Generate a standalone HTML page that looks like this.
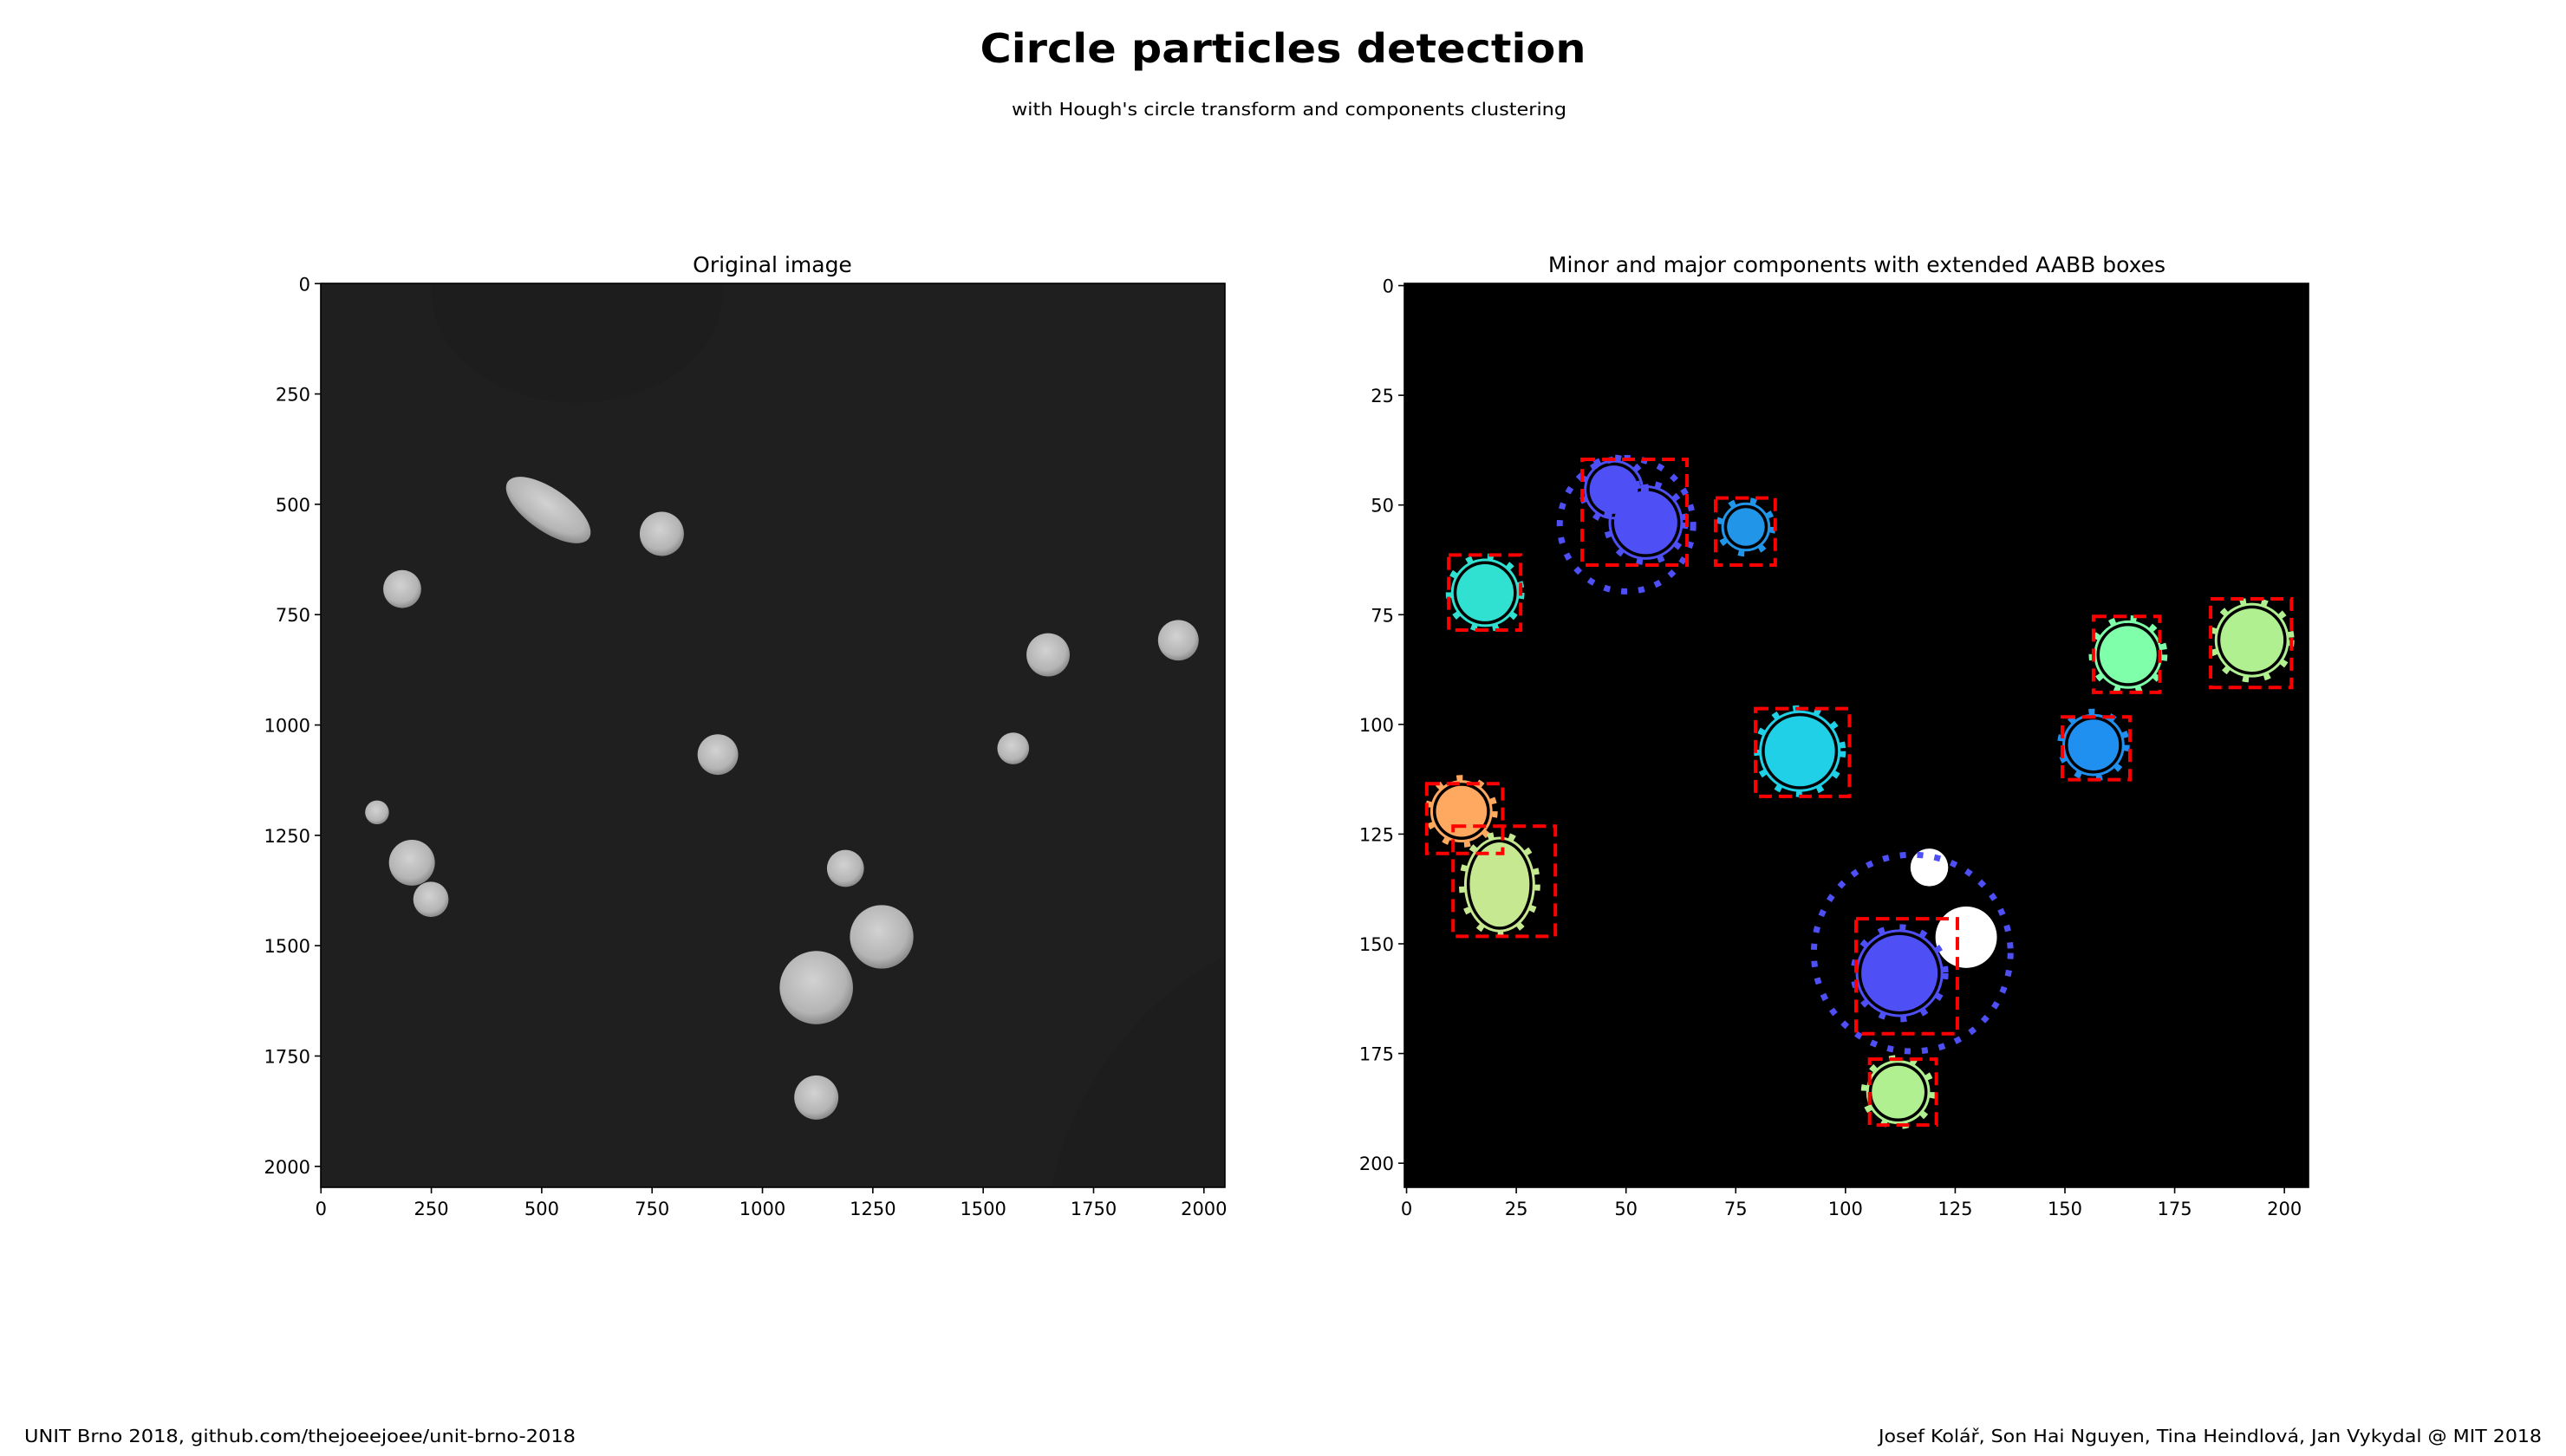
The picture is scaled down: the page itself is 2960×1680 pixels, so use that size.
<!DOCTYPE html>
<html><head><meta charset="utf-8"><style>
html,body{margin:0;padding:0;background:#fff}
svg{display:block}
text{font-family:"DejaVu Sans","Liberation Sans",sans-serif}
</style></head><body>
<svg id="fig" width="2960" height="1680" viewBox="0 0 2960 1680" xmlns="http://www.w3.org/2000/svg">
<defs>
<radialGradient id="pg" cx="45%" cy="40%" r="60%">
<stop offset="0" stop-color="#d2d2d2"/><stop offset="0.75" stop-color="#b4b4b4"/><stop offset="1" stop-color="#8a8a8a"/>
</radialGradient>
<clipPath id="clipL"><rect x="370" y="327" width="1043" height="1043"/></clipPath>
<clipPath id="clipR"><rect x="1620" y="327" width="1043" height="1043"/></clipPath>
</defs>
<text x="1480" y="72" text-anchor="middle" font-size="46" font-weight="bold" textLength="699" lengthAdjust="spacingAndGlyphs">Circle particles detection</text>
<text x="1487" y="133" text-anchor="middle" font-size="20" textLength="640" lengthAdjust="spacingAndGlyphs">with Hough's circle transform and components clustering</text>
<text x="891" y="314" text-anchor="middle" font-size="25">Original image</text>
<text x="2142" y="314" text-anchor="middle" font-size="25">Minor and major components with extended AABB boxes</text>
<g id="left"></g>
<g id="right"></g>
<text x="28" y="1664" font-size="20" textLength="636" lengthAdjust="spacingAndGlyphs">UNIT Brno 2018, github.com/thejoeejoee/unit-brno-2018</text>
<text x="2932" y="1664" text-anchor="end" font-size="20" textLength="765" lengthAdjust="spacingAndGlyphs">Josef Kolář, Son Hai Nguyen, Tina Heindlová, Jan Vykydal @ MIT 2018</text>
</svg>
<script>
// Left panel: particles in original image (x, y, r in px)
const particleX = [772, 184, 1647, 1942, 899, 1568, 127, 206, 249, 1188, 1270, 1122, 1122];
const particleY = [567, 692, 841, 808, 1067, 1053, 1198, 1312, 1395, 1325, 1480, 1595, 1844];
const particleR = [50, 43, 49, 46, 46, 36, 27, 52, 40, 42, 72, 83, 50];
const elongX = [515], elongY = [513], elongRx = [112], elongRy = [48], elongAngle = [35];
const leftTicks = [0, 250, 500, 750, 1000, 1250, 1500, 1750, 2000];
// Right panel: components (x, y, r in grid units)
const blobX = [47.2, 54.5, 77.3, 17.9, 164.4, 192.6, 89.6, 156.5, 12.5, 21.2, 112.3, 112];
const blobY = [46.5, 54, 55, 70, 84.1, 80.8, 106.1, 104.7, 119.8, 136.5, 156.7, 183.8];
const blobR = [5.5, 7.2, 4.3, 6.5, 6.5, 7.2, 8, 5.8, 5.8, 8, 8.7, 6];
const blobColor = ['#4f4ff6','#4f4ff6','#2196e8','#30e0d0','#80ffaa','#b0f090','#20d0e6','#2090f0','#ffa860','#c6e890','#4f4ff6','#b0f090'];
const boxX0 = [40, 70.4, 9.6, 156.5, 183.2, 79.5, 149.4, 4.6, 10.6, 102.4, 105.5];
const boxX1 = [63.9, 84, 26, 171.6, 201.6, 100.9, 164.8, 21.9, 33.9, 125.5, 120.7];
const boxY0 = [39.6, 48.4, 61.4, 75.4, 71.4, 96.4, 98.3, 113.5, 123.2, 144.3, 176.3];
const boxY1 = [63.7, 63.7, 78.5, 92.7, 91.6, 116.4, 112.6, 129.4, 148.3, 170.5, 191.3];
const majorX = [50.1, 115.2], majorY = [54.5, 152.1], majorR = [15.2, 22.4];
const whiteX = [119.1, 127.5], whiteY = [132.6, 148.5], whiteR = [4.3, 7];
const rightTicks = [0, 25, 50, 75, 100, 125, 150, 175, 200];

const NS = 'http://www.w3.org/2000/svg';
function mk(tag, attrs, parent){const e=document.createElementNS(NS,tag);for(const k in attrs)e.setAttribute(k,attrs[k]);parent.appendChild(e);return e;}

function axis(x0, y0, w, h, n){
  const sx = v => x0 + (v + 0.5) * w / n;
  const sy = v => y0 + (v + 0.5) * h / n;
  return {sx, sy, s: v => v * w / n};
}
function drawTicks(g, x0, y0, w, h, A, ticks, prefix){
  ticks.forEach(t=>{
    const x=A.sx(t), y=A.sy(t);
    const tx = mk('line',{x1:x,y1:y0+h,x2:x,y2:y0+h+7,stroke:'#000','stroke-width':1.6},g);
    
    
    const lx = mk('text',{x:x,y:y0+h+32,'text-anchor':'middle','font-size':21},g);
    lx.textContent=t;
    
    
    const ty = mk('line',{x1:x0-7,y1:y,x2:x0,y2:y,stroke:'#000','stroke-width':1.6},g);
    
    
    const ly = mk('text',{x:x0-12,y:y+8,'text-anchor':'end','font-size':21},g);
    ly.textContent=t;
    
    
  });
  const fr = mk('rect',{x:x0,y:y0,width:w,height:h,fill:'none',stroke:'#000','stroke-width':1.6},g);
  
  
}

// LEFT
(function(){
  const g=document.getElementById('left');
  const x0=370,y0=327,w=1043,h=1043;
  const A=axis(x0,y0,w,h,2048);
  const bg=mk('rect',{x:x0,y:y0,width:w,height:h,fill:'#1f1f1f'},g);
  
  
  const c=mk('g',{'clip-path':'url(#clipL)'},g);
  const sh=mk('ellipse',{cx:A.sx(580),cy:A.sy(20),rx:A.s(330),ry:A.s(250),fill:'#1d1d1d'},c);
  
  
  const sh2=mk('ellipse',{cx:A.sx(2050),cy:A.sy(1950),rx:A.s(330),ry:A.s(520),fill:'#1d1d1d',transform:`rotate(35 ${A.sx(2050)} ${A.sy(1950)})`},c);
  
  
  elongX.forEach((v,i)=>{
    const e=mk('ellipse',{cx:A.sx(v),cy:A.sy(elongY[i]),rx:A.s(elongRx[i]),ry:A.s(elongRy[i]),fill:'url(#pg)',transform:`rotate(${elongAngle[i]} ${A.sx(v)} ${A.sy(elongY[i])})`},c);
    
    
  });
  particleX.forEach((v,i)=>{
    const e=mk('circle',{cx:A.sx(v),cy:A.sy(particleY[i]),r:A.s(particleR[i]),fill:'url(#pg)'},c);
    
    
  });
  drawTicks(g,x0,y0,w,h,A,leftTicks,'left');
})();

// RIGHT
(function(){
  const g=document.getElementById('right');
  const x0=1620,y0=327,w=1043,h=1043;
  const A=axis(x0,y0,w,h,206);
  const bg=mk('rect',{x:x0,y:y0,width:w,height:h,fill:'#000'},g);
  
  
  const c=mk('g',{'clip-path':'url(#clipR)'},g);
  whiteX.forEach((v,i)=>{
    const e=mk('circle',{cx:A.sx(v),cy:A.sy(whiteY[i]),r:A.s(whiteR[i]),fill:'#fff'},c);
    
    
  });
  blobX.forEach((v,i)=>{
    const cx=A.sx(v), cy=A.sy(blobY[i]), r=A.s(blobR[i]);
    const isTall = i===9;
    const e=mk('ellipse',{cx:cx,cy:cy,rx:isTall?r*0.85:r,ry:isTall?r*1.2:r,fill:blobColor[i]},c);
    
    
    const o=mk('ellipse',{cx:cx,cy:cy,rx:(isTall?r*0.85:r)+5,ry:(isTall?r*1.2:r)+5,fill:'none',stroke:blobColor[i],'stroke-width':3},c);
    
    
    const t=mk('ellipse',{cx:cx,cy:cy,rx:(isTall?r*0.85:r)+9,ry:(isTall?r*1.2:r)+9,fill:'none',stroke:blobColor[i],'stroke-width':7,'stroke-dasharray':'7 18'},c);
    
    
  });
  majorX.forEach((v,i)=>{
    const e=mk('circle',{cx:A.sx(v),cy:A.sy(majorY[i]),r:A.s(majorR[i]),fill:'none',stroke:'#4f4ff6','stroke-width':7,'stroke-dasharray':'7 13'},c);
    
    
  });
  boxX0.forEach((v,i)=>{
    const x=A.sx(v), y=A.sy(boxY0[i]);
    const e=mk('rect',{x:x,y:y,width:A.sx(boxX1[i])-x,height:A.sy(boxY1[i])-y,fill:'none',stroke:'#ff0000','stroke-width':4,'stroke-dasharray':'15 8'},c);
    
    
  });
  drawTicks(g,x0,y0,w,h,A,rightTicks,'right');
})();
</script>
</body></html>
